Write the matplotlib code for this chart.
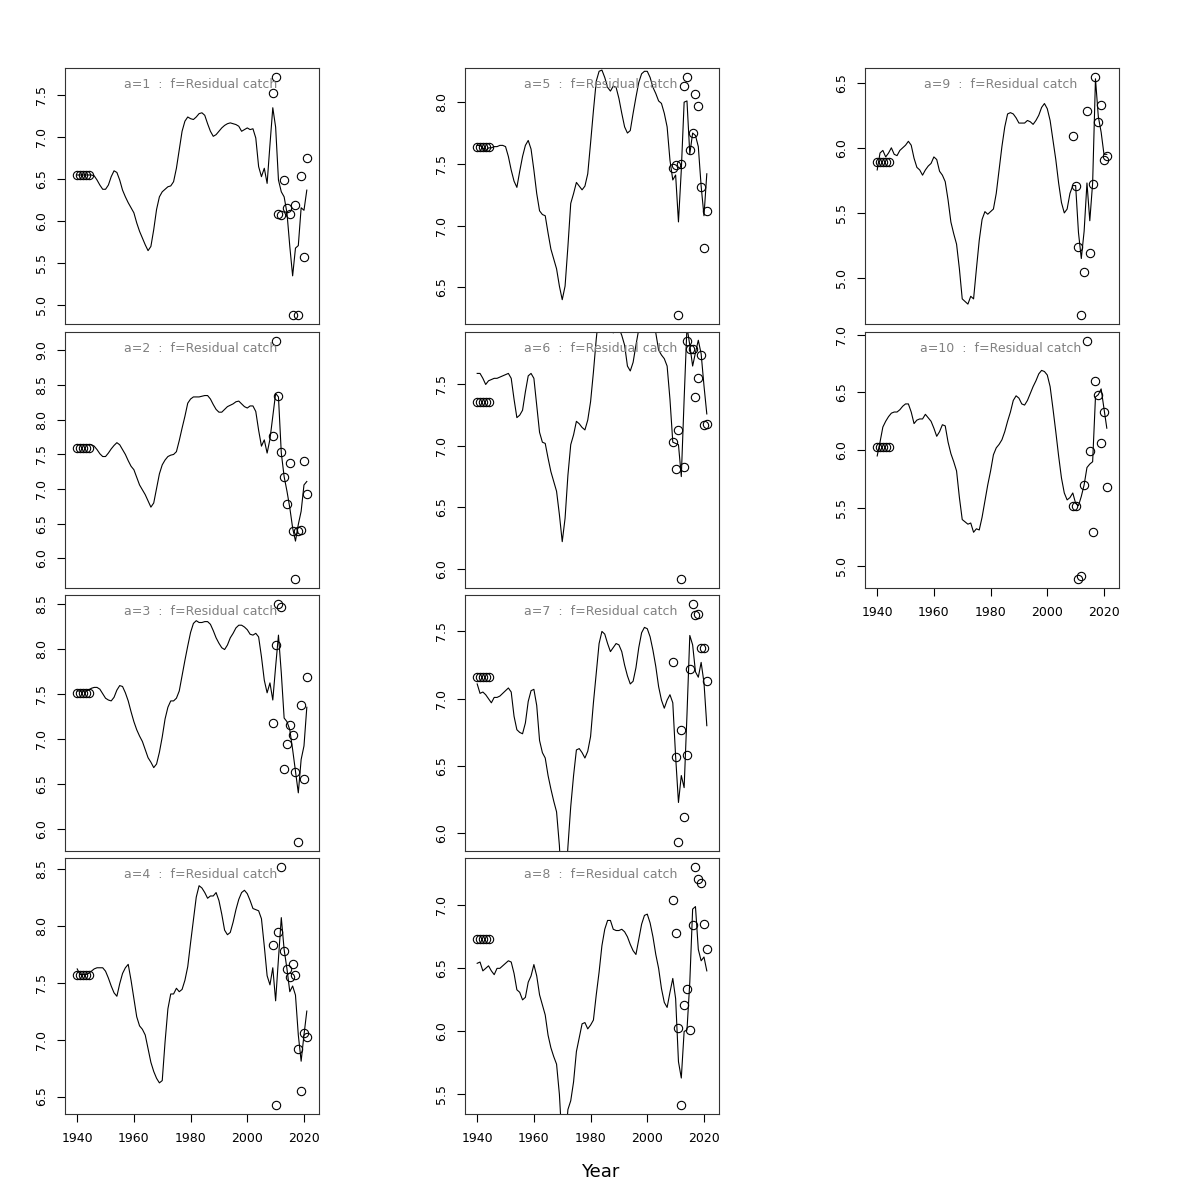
import matplotlib
matplotlib.use("Agg")
import matplotlib.pyplot as plt
from matplotlib.ticker import MultipleLocator, FormatStrFormatter

years = list(range(1940, 2022))
pt_years = [1940, 1941, 1942, 1943, 1944] + list(range(2009, 2022))

line_a1 = [6.55, 6.55, 6.55, 6.55, 6.55, 6.55, 6.54, 6.49, 6.43, 6.38,
           6.38, 6.43, 6.53, 6.60, 6.58, 6.49, 6.37, 6.29, 6.22, 6.16,
           6.10, 5.98, 5.88, 5.80, 5.72, 5.65, 5.70, 5.90, 6.14, 6.29,
           6.35, 6.38, 6.41, 6.42, 6.47, 6.63, 6.85, 7.07, 7.19, 7.24,
           7.22, 7.21, 7.24, 7.28, 7.29, 7.26, 7.16, 7.07, 7.01, 7.03,
           7.07, 7.11, 7.14, 7.16, 7.17, 7.16, 7.15, 7.13, 7.07, 7.09,
           7.11, 7.09, 7.10, 6.99, 6.65, 6.53, 6.63, 6.45, 6.91, 7.35,
           7.12, 6.49, 6.35, 6.29, 6.10, 5.70, 5.35, 5.68, 5.71, 6.16,
           6.13, 6.37]
pts_a1 = [6.55, 6.55, 6.55, 6.55, 6.55,
          7.53, 7.71, 6.08, 6.07, 6.49, 6.16, 6.08, 4.89, 6.19, 4.89, 6.54, 5.58, 6.75]

line_a2 = [7.64, 7.64, 7.64, 7.64, 7.64, 7.64, 7.62, 7.57, 7.51, 7.47,
           7.47, 7.52, 7.58, 7.63, 7.67, 7.64, 7.57, 7.50, 7.41, 7.33,
           7.28, 7.17, 7.06, 6.99, 6.92, 6.83, 6.74, 6.80, 7.01, 7.22,
           7.35, 7.42, 7.47, 7.49, 7.50, 7.54, 7.70, 7.88, 8.05, 8.24,
           8.30, 8.33, 8.33, 8.33, 8.34, 8.35, 8.35, 8.30, 8.22, 8.15,
           8.11, 8.11, 8.15, 8.19, 8.21, 8.23, 8.26, 8.27, 8.23, 8.19,
           8.17, 8.20, 8.20, 8.12, 7.85, 7.62, 7.71, 7.52, 7.72, 8.05,
           8.38, 8.33, 7.52, 7.18, 6.97, 6.73, 6.44, 6.25, 6.49, 6.68,
           7.06, 7.11]
pts_a2 = [7.60, 7.60, 7.60, 7.60, 7.60,
          7.77, 9.13, 8.34, 7.54, 7.18, 6.78, 7.38, 6.39, 5.71, 6.39, 6.41, 7.40, 6.93]

line_a3 = [7.53, 7.53, 7.53, 7.53, 7.54, 7.56, 7.57, 7.57, 7.55, 7.50,
           7.45, 7.43, 7.42, 7.46, 7.54, 7.59, 7.58, 7.51, 7.42, 7.30,
           7.19, 7.10, 7.03, 6.97, 6.88, 6.79, 6.74, 6.68, 6.72, 6.85,
           7.02, 7.22, 7.35, 7.42, 7.42, 7.45, 7.53, 7.70, 7.87, 8.03,
           8.18, 8.28, 8.31, 8.29, 8.29, 8.30, 8.30, 8.27, 8.20, 8.12,
           8.06, 8.01, 7.99, 8.04, 8.12, 8.17, 8.23, 8.26, 8.26, 8.24,
           8.21, 8.16, 8.15, 8.17, 8.13, 7.91, 7.65, 7.51, 7.62, 7.43,
           7.80, 8.15, 7.73, 7.23, 7.19, 7.10, 6.88, 6.64, 6.40, 6.77,
           6.92, 7.35]
pts_a3 = [7.51, 7.51, 7.51, 7.51, 7.51,
          7.18, 8.04, 8.49, 8.46, 6.67, 6.94, 7.15, 7.04, 6.63, 5.86, 7.38, 6.55, 7.68]

line_a4 = [7.62, 7.57, 7.57, 7.57, 7.58, 7.60, 7.62, 7.63, 7.63, 7.63,
           7.60, 7.54, 7.47, 7.41, 7.38, 7.49, 7.58, 7.63, 7.66, 7.52,
           7.36, 7.20, 7.12, 7.09, 7.04, 6.92, 6.80, 6.72, 6.66, 6.62,
           6.64, 6.98, 7.27, 7.40, 7.40, 7.45, 7.42, 7.44, 7.52, 7.64,
           7.85, 8.05, 8.25, 8.35, 8.33, 8.29, 8.24, 8.26, 8.26, 8.29,
           8.22, 8.10, 7.96, 7.92, 7.94, 8.03, 8.14, 8.23, 8.29, 8.31,
           8.28, 8.22, 8.15, 8.14, 8.13, 8.06, 7.82, 7.56, 7.48, 7.63,
           7.34, 7.71, 8.07, 7.79, 7.62, 7.42, 7.47, 7.39, 7.04, 6.81,
           7.04, 7.25]
pts_a4 = [7.57, 7.57, 7.57, 7.57, 7.57,
          7.83, 6.43, 7.94, 8.51, 7.78, 7.62, 7.55, 7.66, 7.57, 6.92, 6.55, 7.06, 7.02]

line_a5 = [7.65, 7.65, 7.63, 7.60, 7.63, 7.63, 7.64, 7.64, 7.65, 7.65,
           7.64, 7.56, 7.45, 7.36, 7.31, 7.44, 7.56, 7.65, 7.69, 7.62,
           7.45, 7.26, 7.12, 7.09, 7.08, 6.94, 6.81, 6.73, 6.65, 6.51,
           6.40, 6.51, 6.83, 7.18, 7.26, 7.35, 7.32, 7.29, 7.32, 7.42,
           7.67, 7.93, 8.17, 8.25, 8.26, 8.20, 8.12, 8.09, 8.13, 8.12,
           8.03, 7.91, 7.80, 7.75, 7.77, 7.91, 8.04, 8.16, 8.23, 8.25,
           8.25, 8.20, 8.12, 8.07, 8.01, 7.99, 7.91, 7.80, 7.53, 7.37,
           7.41, 7.03, 7.45, 8.00, 8.01, 7.58, 7.75, 7.73, 7.64, 7.32,
           7.08, 7.42]
pts_a5 = [7.64, 7.64, 7.64, 7.64, 7.64,
          7.47, 7.49, 6.28, 7.50, 8.13, 8.20, 7.61, 7.75, 8.07, 7.97, 7.31, 6.82, 7.12]

line_a6 = [7.59, 7.59, 7.55, 7.50, 7.53, 7.54, 7.55, 7.55, 7.56, 7.57,
           7.58, 7.59, 7.55, 7.38, 7.23, 7.25, 7.29, 7.44, 7.57, 7.59,
           7.55, 7.33, 7.11, 7.03, 7.02, 6.90, 6.79, 6.71, 6.63, 6.44,
           6.22, 6.41, 6.76, 7.01, 7.09, 7.20, 7.18, 7.15, 7.13, 7.21,
           7.36, 7.60, 7.87, 8.09, 8.15, 8.12, 8.00, 7.95, 7.92, 7.97,
           7.96, 7.90, 7.82, 7.65, 7.61, 7.68, 7.82, 7.95, 8.05, 8.10,
           8.10, 8.05, 7.98, 7.92, 7.78, 7.74, 7.71, 7.65, 7.38, 7.03,
           7.02, 7.01, 6.75, 7.38, 7.97, 7.82, 7.65, 7.76, 7.86, 7.75,
           7.49, 7.26]
pts_a6 = [7.36, 7.36, 7.36, 7.36, 7.36,
          7.03, 6.81, 7.13, 5.92, 6.83, 7.85, 7.79, 7.79, 7.40, 7.55, 7.74, 7.17, 7.18]

line_a7 = [7.11, 7.04, 7.05, 7.03, 7.00, 6.97, 7.01, 7.01, 7.02, 7.04,
           7.06, 7.08, 7.05, 6.87, 6.77, 6.75, 6.74, 6.82, 6.98, 7.06,
           7.07, 6.95, 6.69, 6.60, 6.56, 6.43, 6.33, 6.24, 6.16, 5.91,
           5.50, 5.55, 5.90, 6.20, 6.43, 6.62, 6.63, 6.60, 6.56, 6.61,
           6.72, 6.97, 7.19, 7.41, 7.50, 7.48, 7.41, 7.35, 7.38, 7.41,
           7.40, 7.35, 7.25, 7.17, 7.11, 7.13, 7.23, 7.38, 7.49, 7.53,
           7.52, 7.46, 7.36, 7.24, 7.09, 6.99, 6.93, 6.99, 7.03, 6.97,
           6.57, 6.23, 6.43, 6.34, 6.88, 7.47, 7.40, 7.20, 7.16, 7.27,
           7.12, 6.80]
pts_a7 = [7.16, 7.16, 7.16, 7.16, 7.16,
          7.27, 6.57, 5.94, 6.77, 6.12, 6.58, 7.22, 7.70, 7.62, 7.63, 7.38, 7.38, 7.13]

line_a8 = [6.54, 6.55, 6.48, 6.50, 6.52, 6.48, 6.45, 6.50, 6.50, 6.52,
           6.54, 6.56, 6.55, 6.46, 6.33, 6.31, 6.25, 6.27, 6.39, 6.44,
           6.53, 6.44, 6.29, 6.21, 6.13, 5.97, 5.87, 5.80, 5.74, 5.50,
           5.10, 5.10, 5.38, 5.45, 5.60, 5.84, 5.95, 6.06, 6.07, 6.02,
           6.05, 6.09, 6.29, 6.47, 6.68, 6.81, 6.88, 6.88, 6.81, 6.80,
           6.80, 6.81, 6.79, 6.75, 6.69, 6.64, 6.61, 6.73, 6.85, 6.92,
           6.93, 6.86, 6.75, 6.61, 6.50, 6.34, 6.23, 6.19, 6.31, 6.42,
           6.26, 5.76, 5.63, 6.00, 6.01, 6.39, 6.97, 6.99, 6.65, 6.56,
           6.59, 6.48]
pts_a8 = [6.73, 6.73, 6.73, 6.73, 6.73,
          7.04, 6.78, 6.03, 5.42, 6.21, 6.34, 6.01, 6.84, 7.30, 7.21, 7.18, 6.85, 6.65]

line_a9 = [5.83, 5.96, 5.98, 5.93, 5.96, 6.00, 5.95, 5.94, 5.98, 6.00,
           6.02, 6.05, 6.02, 5.92, 5.85, 5.83, 5.79, 5.83, 5.86, 5.88,
           5.93, 5.91, 5.82, 5.79, 5.74, 5.60, 5.43, 5.34, 5.26, 5.07,
           4.84, 4.82, 4.80, 4.86, 4.84, 5.07, 5.29, 5.45, 5.51, 5.49,
           5.51, 5.53, 5.65, 5.83, 6.01, 6.16, 6.26, 6.27, 6.26, 6.23,
           6.19, 6.19, 6.19, 6.21, 6.20, 6.18, 6.21, 6.25, 6.31, 6.34,
           6.30, 6.21, 6.06, 5.91, 5.73, 5.58, 5.50, 5.53, 5.65, 5.71,
           5.71, 5.35, 5.15, 5.36, 5.73, 5.44, 5.73, 6.53, 6.24, 6.12,
           5.95, 5.95]
pts_a9 = [5.89, 5.89, 5.89, 5.89, 5.89,
          6.09, 5.71, 5.24, 4.72, 5.05, 6.28, 5.19, 5.72, 6.54, 6.20, 6.33, 5.91, 5.94]

line_a10 = [5.95, 6.07, 6.20, 6.25, 6.29, 6.32, 6.33, 6.33, 6.35, 6.38,
            6.40, 6.40, 6.33, 6.23, 6.26, 6.27, 6.27, 6.31, 6.28, 6.25,
            6.19, 6.12, 6.16, 6.22, 6.21, 6.07, 5.97, 5.90, 5.82, 5.59,
            5.40, 5.38, 5.36, 5.37, 5.29, 5.32, 5.31, 5.42, 5.56, 5.70,
            5.82, 5.96, 6.02, 6.05, 6.09, 6.16, 6.25, 6.33, 6.43, 6.47,
            6.45, 6.40, 6.39, 6.43, 6.49, 6.55, 6.60, 6.66, 6.69, 6.68,
            6.65, 6.55, 6.36, 6.16, 5.95, 5.76, 5.63, 5.57, 5.59, 5.63,
            5.54, 5.52, 5.60, 5.70, 5.85, 5.88, 5.90, 6.46, 6.48, 6.53,
            6.36, 6.19]
pts_a10 = [6.03, 6.03, 6.03, 6.03, 6.03,
           5.52, 5.52, 4.89, 4.91, 5.70, 6.94, 5.99, 5.29, 6.60, 6.48, 6.06, 6.33, 5.68]

panels = [
    (1, line_a1, pts_a1), (2, line_a2, pts_a2), (3, line_a3, pts_a3), (4, line_a4, pts_a4),
    (5, line_a5, pts_a5), (6, line_a6, pts_a6), (7, line_a7, pts_a7), (8, line_a8, pts_a8),
    (9, line_a9, pts_a9), (10, line_a10, pts_a10),
]

W = 1200.0
col_left = [65, 465, 865]
row_top = [68, 332, 595, 858]
pw, ph = 254, 256

fig = plt.figure(figsize=(12, 12), dpi=100)

for i, (a, line, pts) in enumerate(panels):
    col, row = divmod(i, 4)
    ax = fig.add_axes([col_left[col] / W, 1 - (row_top[row] + ph) / W, pw / W, ph / W])
    lo, hi = min(pts), max(pts)
    r = hi - lo
    ax.plot(years, line, color="black", lw=0.8)
    ax.plot(pt_years, pts, "o", mfc="none", mec="black", ms=6, mew=0.8)
    ax.set_xlim(1935.7, 2025.3)
    ax.set_ylim(lo - 0.04 * r, hi + 0.04 * r)
    ax.yaxis.set_major_locator(MultipleLocator(0.5))
    ax.yaxis.set_major_formatter(FormatStrFormatter("%.1f"))
    ax.tick_params(axis="y", direction="out", length=6, width=0.8, labelsize=9, pad=6)
    for lab in ax.get_yticklabels():
        lab.set_rotation(90)
        lab.set_va("center")
    last = (row == 3) or (col == 2 and row == 1)
    if last:
        ax.set_xticks([1940, 1960, 1980, 2000, 2020])
        ax.tick_params(axis="x", direction="out", length=6, width=0.8, labelsize=9, pad=7)
    else:
        ax.set_xticks([])
    for s in ax.spines.values():
        s.set_linewidth(0.8)
        s.set_color("#333333")
    ax.text(0.535, 0.935, "a=%d  :  f=Residual catch" % a, transform=ax.transAxes,
            ha="center", va="center", color="#808080", fontsize=9)

fig.text(0.5, 1 - 1172 / W, "Year", ha="center", va="center", fontsize=13)

fig.savefig("out.png", dpi=100)
